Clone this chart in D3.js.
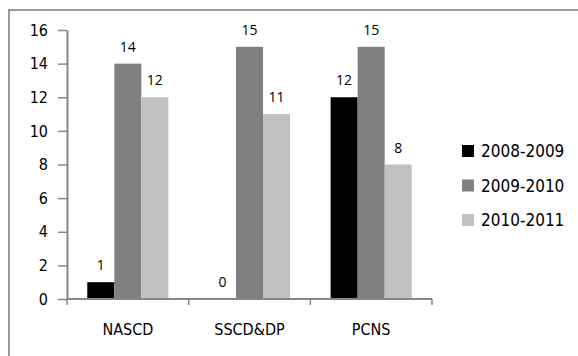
<!DOCTYPE html>
<html>
<head>
<meta charset="utf-8">
<script src="https://cdnjs.cloudflare.com/ajax/libs/d3/7.8.5/d3.min.js"></script>
<style>
  body { margin: 0; background: #fff; }
  svg { display: block; }
</style>
</head>
<body>
<div id="chart"></div>
<script>
const categories = ["NASCD", "SSCD&DP", "PCNS"];
const seriesNames = ["2008-2009", "2009-2010", "2010-2011"];
const values2008 = [1, 0, 12];
const values2009 = [14, 15, 15];
const values2010 = [12, 11, 8];
const yTicks = [0, 2, 4, 6, 8, 10, 12, 14, 16];
const colors = ["#000000", "#808080", "#c0c0c0"];

const width = 578, height = 356;
const axisFont = "'DejaVu Sans Condensed', 'DejaVu Sans', sans-serif";
const labelFont = "'Open Sans', 'Noto Sans', sans-serif";

const svg = d3.select("#chart").append("svg")
    .attr("width", width)
    .attr("height", height);

// outer frame (only top and left show)
svg.append("path")
    .attr("d", "M9,370 L9,10 L600,10")
    .attr("fill", "none")
    .attr("stroke", "#9a9a9a")
    .attr("stroke-width", 2);

const x0 = d3.scaleBand().domain(categories).range([67, 432]).paddingInner(0).paddingOuter(0);
const x1 = d3.scaleBand().domain(seriesNames).range([0, x0.bandwidth()]).paddingInner(0).paddingOuter(0.75);
const y = d3.scaleLinear().domain([0, 16]).range([299, 30]);

const rows = categories.map((c, i) => ({
    cat: c,
    vals: [values2008[i], values2009[i], values2010[i]]
}));

const groups = svg.selectAll("g.cat").data(rows).join("g")
    .attr("class", "cat")
    .attr("transform", d => `translate(${x0(d.cat)},0)`);

groups.selectAll("rect").data(d => d.vals.map((v, j) => ({v, s: seriesNames[j], j})))
    .join("rect")
    .attr("x", d => x1(d.s))
    .attr("width", x1.bandwidth())
    .attr("y", d => y(d.v))
    .attr("height", d => y(0) - y(d.v))
    .attr("fill", d => colors[d.j]);

groups.selectAll("text.val").data(d => d.vals.map((v, j) => ({v, s: seriesNames[j]})))
    .join("text")
    .attr("class", "val")
    .attr("x", d => x1(d.s) + x1.bandwidth() / 2)
    .attr("y", d => y(d.v) - 12)
    .attr("text-anchor", "middle")
    .attr("font-family", labelFont)
    .attr("font-size", 14)
    .attr("fill", "#000")
    .text(d => d.v);

// y axis
const yAxis = svg.append("g")
    .attr("transform", "translate(67,0)")
    .call(d3.axisLeft(y).tickValues(yTicks).tickSize(9).tickPadding(10).tickSizeOuter(0));
yAxis.select(".domain").attr("stroke", "#868686").attr("stroke-width", 2);
yAxis.selectAll(".tick line").attr("stroke", "#868686").attr("stroke-width", 1.5);
yAxis.selectAll(".tick text").attr("font-family", axisFont).attr("font-size", 16).attr("fill", "#000");

// x axis with ticks at category boundaries
const xAxis = svg.append("g").attr("transform", `translate(0,${y(0)})`);
xAxis.append("line")
    .attr("x1", x0.range()[0]).attr("x2", x0.range()[1])
    .attr("stroke", "#868686").attr("stroke-width", 2);
const bounds = categories.map(c => x0(c)).concat([x0.range()[1]]);
xAxis.selectAll("line.tk").data(bounds).join("line")
    .attr("class", "tk")
    .attr("x1", d => d).attr("x2", d => d)
    .attr("y1", 0).attr("y2", 6)
    .attr("stroke", "#868686").attr("stroke-width", 1.5);
xAxis.selectAll("text").data(categories).join("text")
    .attr("x", d => x0(d) + x0.bandwidth() / 2)
    .attr("y", 36)
    .attr("text-anchor", "middle")
    .attr("font-family", axisFont)
    .attr("font-size", 16)
    .attr("fill", "#000")
    .text(d => d);

// legend
const legend = svg.append("g").attr("transform", "translate(462,151)");
const li = legend.selectAll("g").data(seriesNames).join("g")
    .attr("transform", (d, i) => `translate(0,${i * 34.5})`);
li.append("rect")
    .attr("x", 0).attr("y", -6)
    .attr("width", 12).attr("height", 12)
    .attr("fill", (d, i) => colors[i]);
li.append("text")
    .attr("x", 19).attr("y", 0)
    .attr("dy", "0.36em")
    .attr("font-family", axisFont)
    .attr("font-size", 17)
    .attr("fill", "#000")
    .text(d => d);
</script>
</body>
</html>
